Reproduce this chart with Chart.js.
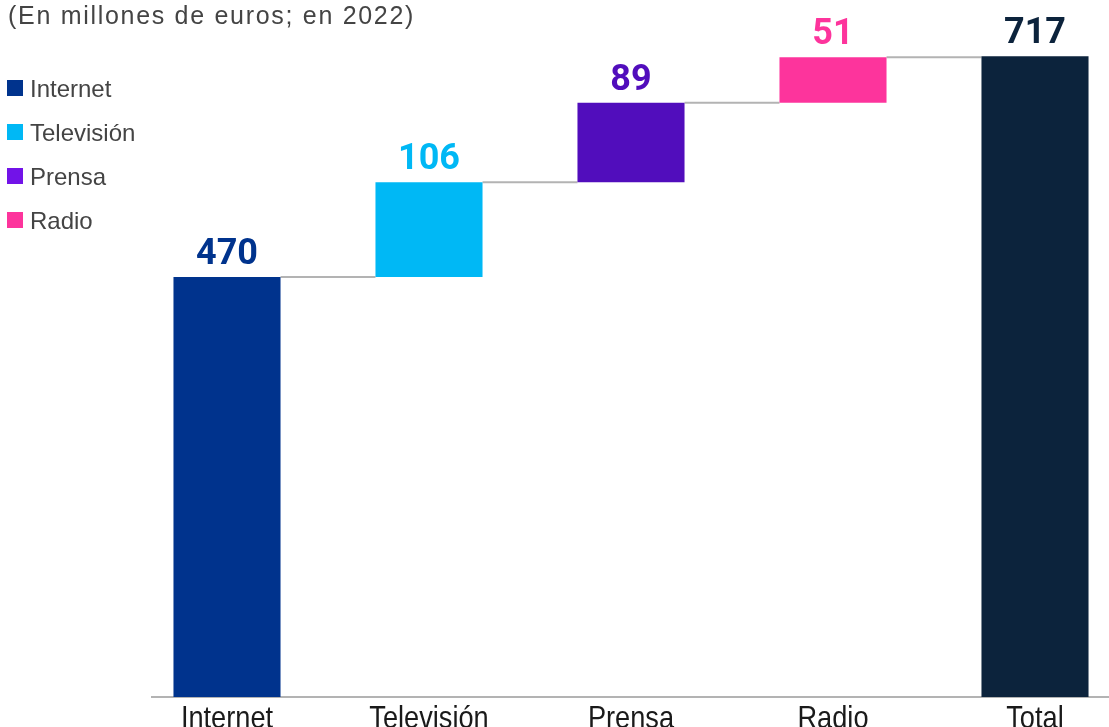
<!DOCTYPE html>
<html>
<head>
<meta charset="utf-8">
<script src="https://cdn.jsdelivr.net/npm/chart.js@4.4.0/dist/chart.umd.min.js"></script>
<style>
body { margin: 0; overflow: hidden; background: #fff; width: 1109px; height: 727px; position: relative; font-family: "Liberation Sans", Arial, sans-serif; }
#wrap { position: absolute; left: 0; top: 0; width: 1140px; height: 727px; }
#title { position: absolute; left: 8px; top: 3px; font-size: 25px; line-height: 25px; letter-spacing: 1.7px; color: #444; white-space: nowrap; }
.key { position: absolute; left: 7px; width: 16px; height: 16px; }
.keytext { position: absolute; left: 30px; font-size: 24px; line-height: 24px; color: #444; white-space: nowrap; }
</style>
</head>
<body>
<div id="wrap"><canvas id="waterfall" width="1140" height="727"></canvas></div>
<div id="title">(En millones de euros; en 2022)</div>
<div id="legend"></div>
<script>
var categories = ["Internet", "Televisión", "Prensa", "Radio", "Total"];
var values = [470, 106, 89, 51, 717];
var barColors = ["#00338d", "#00b8f5", "#510dbc", "#fd349c", "#0c233c"];
var legendLabels = ["Internet", "Televisión", "Prensa", "Radio"];
var legendColors = ["#00338d", "#00b8f5", "#7213e8", "#fd349c"];

// floating bars: each piece starts where the previous one ended, total from 0
function waterfallData() {
  var out = [];
  var run = 0;
  for (var i = 0; i < values.length; i++) {
    if (categories[i] === "Total") {
      out.push([0, values[i]]);
    } else {
      out.push([run, run + values[i]]);
      run += values[i];
    }
  }
  return out;
}

function buildLegend() {
  var box = document.getElementById("legend");
  for (var i = 0; i < legendLabels.length; i++) {
    var sq = document.createElement("div");
    sq.className = "key";
    sq.style.top = (80 + 44 * i) + "px";
    sq.style.background = legendColors[i];
    box.appendChild(sq);
    var t = document.createElement("div");
    t.className = "keytext";
    t.style.top = (77 + 44 * i) + "px";
    t.textContent = legendLabels[i];
    box.appendChild(t);
  }
}

var stepLines = {
  id: "stepLines",
  beforeDatasetsDraw: function (chart) {
    var ctx = chart.ctx;
    var area = chart.chartArea;
    var bars = chart.getDatasetMeta(0).data;
    var data = chart.data.datasets[0].data;
    var y = chart.scales.y;
    ctx.save();
    ctx.strokeStyle = "#b3b3b3";
    ctx.lineWidth = 2;
    ctx.beginPath();
    ctx.moveTo(area.left + 25, area.bottom);
    ctx.lineTo(area.right + 5, area.bottom);
    ctx.stroke();
    for (var i = 0; i < bars.length - 1; i++) {
      var py = y.getPixelForValue(data[i][1]);
      ctx.beginPath();
      ctx.moveTo(bars[i].x + bars[i].width / 2, py);
      ctx.lineTo(bars[i + 1].x - bars[i + 1].width / 2, py);
      ctx.stroke();
    }
    ctx.restore();
  }
};

var valueLabels = {
  id: "valueLabels",
  afterDatasetsDraw: function (chart) {
    var ctx = chart.ctx;
    var bars = chart.getDatasetMeta(0).data;
    ctx.save();
    ctx.font = "bold 36px Roboto, 'Liberation Sans', sans-serif";
    ctx.textAlign = "center";
    ctx.textBaseline = "alphabetic";
    for (var i = 0; i < bars.length; i++) {
      ctx.fillStyle = barColors[i];
      ctx.fillText(String(values[i]), bars[i].x, bars[i].y - 13);
    }
    ctx.restore();
  }
};

// category names, squeezed a little to get the narrow look of the original
var axisLabels = {
  id: "axisLabels",
  afterDraw: function (chart) {
    var ctx = chart.ctx;
    var x = chart.scales.x;
    ctx.save();
    ctx.font = "32px 'Liberation Sans', Arial, sans-serif";
    ctx.fillStyle = "#1a1a1a";
    ctx.textAlign = "center";
    ctx.textBaseline = "alphabetic";
    for (var i = 0; i < categories.length; i++) {
      ctx.save();
      ctx.translate(x.getPixelForTick(i), chart.chartArea.bottom + 31);
      ctx.scale(0.85, 1);
      ctx.fillText(categories[i], 0, 0);
      ctx.restore();
    }
    ctx.restore();
  }
};

function drawChart() {
  new Chart(document.getElementById("waterfall"), {
    type: "bar",
    data: {
      labels: categories,
      datasets: [
        {
          data: waterfallData(),
          backgroundColor: barColors,
          borderWidth: 0,
          barPercentage: 0.53,
          categoryPercentage: 1
        }
      ]
    },
    options: {
      responsive: false,
      animation: false,
      layout: { padding: { left: 126, right: 4, top: 0, bottom: 30 } },
      plugins: {
        legend: { display: false },
        tooltip: { enabled: false },
        title: { display: false }
      },
      scales: {
        x: {
          grid: { display: false, drawTicks: false },
          border: { display: false },
          ticks: { display: false }
        },
        y: { display: false, min: 0, max: 780 }
      }
    },
    plugins: [stepLines, valueLabels, axisLabels]
  });
}

document.addEventListener("DOMContentLoaded", function () {
  buildLegend();
  drawChart();
});
</script>
</body>
</html>
